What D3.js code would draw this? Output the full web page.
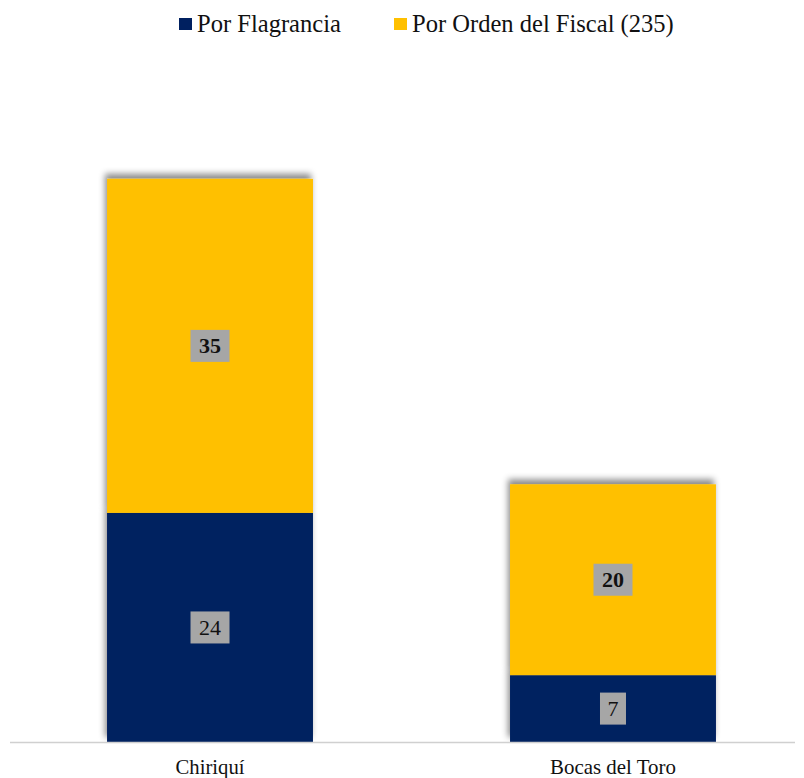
<!DOCTYPE html>
<html><head><meta charset="utf-8">
<script src="https://cdn.jsdelivr.net/npm/d3@7"></script>
<style>body{margin:0;background:#fff}svg{display:block}</style>
</head><body>
<svg id="c" width="804" height="778"></svg>
<script>
const categories = ["Chiriquí", "Bocas del Toro"];
const seriesNames = ["Por Flagrancia", "Por Orden del Fiscal (235)"];
const flagrancia = [24, 7];
const ordenFiscal = [35, 20];
const colors = ["#002060", "#FFC000"];
const FONT = "'Liberation Serif', 'DejaVu Serif', serif";

const svg = d3.select("#c");
const x = d3.scaleBand().domain(categories).range([19, 804]).paddingInner(0.489).paddingOuter(0.2185);
const y = d3.scaleLinear().domain([0, 65]).range([742, 742 - 65 * 9.545]);

function fit(t, target) {
  const w = t.node().getComputedTextLength();
  const fs = parseFloat(t.attr("font-size"));
  t.attr("font-size", fs * target / w);
}

const defs = svg.append("defs");
const f = defs.append("filter").attr("id", "sh").attr("x", "-20%").attr("y", "-20%").attr("width", "140%").attr("height", "140%");
f.append("feDropShadow").attr("dx", -2).attr("dy", -5).attr("stdDeviation", 3).attr("flood-color", "#000").attr("flood-opacity", 0.45);

const stackData = categories.map((c, i) => ({cat: c, s0: flagrancia[i], s1: ordenFiscal[i]}));
const stack = d3.stack().keys(["s0", "s1"])(stackData);

stack.forEach((layer, li) => {
  svg.append("g").selectAll("rect").data(layer).join("rect")
    .attr("x", d => x(d.data.cat))
    .attr("width", x.bandwidth())
    .attr("y", d => y(d[1]))
    .attr("height", d => y(d[0]) - y(d[1]))
    .attr("fill", colors[li])
    .attr("filter", "url(#sh)");
});

svg.append("line").attr("x1", 10).attr("x2", 795)
  .attr("y1", y(0) + 0.5).attr("y2", y(0) + 0.5).attr("stroke", "#d0d0d0").attr("stroke-width", 1.5);

// data labels
stack.forEach((layer, li) => {
  const g = svg.append("g");
  layer.forEach(d => {
    const cx = x(d.data.cat) + x.bandwidth() / 2;
    const cy = (y(d[0]) + y(d[1])) / 2;
    const v = d[1] - d[0];
    const t = g.append("text").attr("x", cx).attr("y", cy + 7.5).attr("text-anchor", "middle")
      .attr("font-family", FONT).attr("font-size", 22)
      .attr("font-weight", li === 1 ? "bold" : "normal").attr("fill", "#111")
      .text(v);
    const bw = String(v).length > 1 ? 39 : 26;
    g.insert("rect", "text").attr("x", cx - bw / 2).attr("y", cy - 16)
      .attr("width", bw).attr("height", 32).attr("fill", "#a6a6a6");
  });
});

// category labels
const catW = [69, 126];
svg.append("g").selectAll("text").data(categories).join("text")
  .attr("x", d => x(d) + x.bandwidth() / 2).attr("y", 774)
  .attr("text-anchor", "middle").attr("font-family", FONT).attr("font-size", 17).attr("fill", "#111")
  .text(d => d)
  .each(function(d, i) { fit(d3.select(this), catW[i]); });

// legend
const legendX = [179, 394];
const legW = [144, 262];
seriesNames.forEach((n, i) => {
  svg.append("rect").attr("x", legendX[i]).attr("y", 18).attr("width", 13).attr("height", 12).attr("fill", colors[i]);
  const t = svg.append("text").attr("x", legendX[i] + 18).attr("y", 32).attr("font-family", FONT)
    .attr("font-size", 20).attr("fill", "#111").text(n);
  fit(t, legW[i]);
});
</script>
</body></html>
